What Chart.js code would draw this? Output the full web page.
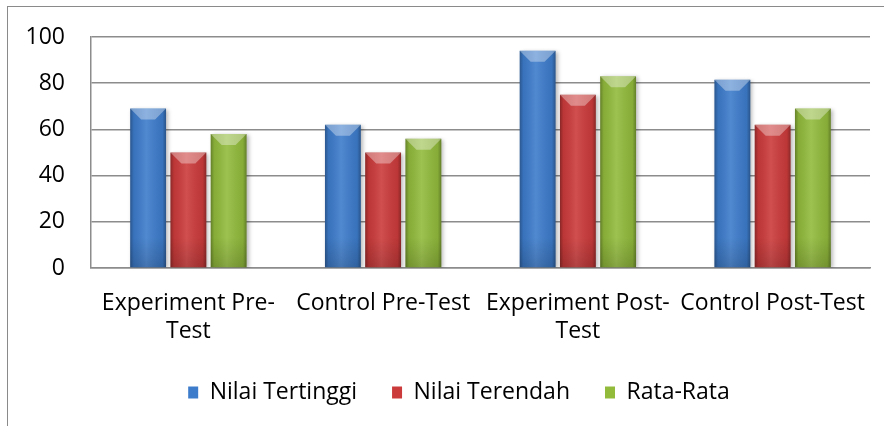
<!DOCTYPE html>
<html>
<head>
<meta charset="utf-8">
<script src="https://cdn.jsdelivr.net/npm/chart.js@4"></script>
<style>
  html, body { margin: 0; padding: 0; background: #fff; }
  #wrap { position: relative; width: 884px; height: 426px; overflow: hidden; }
  #frame { position: absolute; left: 7px; top: 6px; width: 900px; height: 440px;
           border-left: 1.5px solid #8a8a8a; border-top: 1.5px solid #8a8a8a; }
  canvas { position: absolute; left: 0; top: 0; }
</style>
</head>
<body>
<div id="wrap">
  <div id="frame"></div>
  <canvas id="chart" width="884" height="426"></canvas>
</div>
<script>
// ---- data ----
const categories = [['Experiment Pre-', 'Test'], 'Control Pre-Test', ['Experiment Post-', 'Test'], 'Control Post-Test'];
const nilaiTertinggi = [69, 62, 94, 81.5];
const nilaiTerendah = [50, 50, 75, 62];
const rataRata = [58, 56, 83, 69];
const yTicks = [0, 20, 40, 60, 80, 100];

const seriesNames = ['Nilai Tertinggi', 'Nilai Terendah', 'Rata-Rata'];
const seriesColors = ['#3d7ccb', '#cc3b3b', '#92bb3c'];

const FONT = { family: '"Open Sans", sans-serif', size: 23 };
const GRID = '#8c8c8c';

// Excel-style bevel shading drawn over each bar the library has placed
const bevelPlugin = {
    id: 'bevel',
    afterLayout(chart) {
        // legend in the original is centred on the outer frame, a bit right of the canvas centre
        chart.legend.left += 24;
        chart.legend.right += 24;
    },
    beforeDatasetsDraw(chart) {
        const ctx = chart.ctx;
        ctx.save();
        ctx.shadowColor = 'rgba(0,0,0,0.28)';
        ctx.shadowBlur = 4;
        ctx.shadowOffsetX = 2;
        ctx.shadowOffsetY = 1;
    },
    afterDatasetsDraw(chart) {
        const ctx = chart.ctx;
        ctx.restore();
        chart.data.datasets.forEach((ds, i) => {
            chart.getDatasetMeta(i).data.forEach(bar => {
                const w = bar.width;
                const l = bar.x - w / 2, r = bar.x + w / 2;
                const t = bar.y, b = bar.base;
                // side-to-side shading
                const g = ctx.createLinearGradient(l, 0, r, 0);
                g.addColorStop(0, 'rgba(0,0,0,0.30)');
                g.addColorStop(0.1, 'rgba(0,0,0,0.08)');
                g.addColorStop(0.45, 'rgba(255,255,255,0.10)');
                g.addColorStop(0.9, 'rgba(0,0,0,0.08)');
                g.addColorStop(1, 'rgba(0,0,0,0.32)');
                ctx.fillStyle = g;
                ctx.fillRect(l, t, w, b - t);
                // top bevel
                const bv = 11;
                ctx.beginPath();
                ctx.moveTo(l, t);
                ctx.lineTo(r, t);
                ctx.lineTo(r - bv, t + bv);
                ctx.lineTo(l + bv, t + bv);
                ctx.closePath();
                ctx.fillStyle = 'rgba(255,255,255,0.35)';
                ctx.fill();
                // bottom darkening
                const gb = ctx.createLinearGradient(0, b - 30, 0, b);
                gb.addColorStop(0, 'rgba(0,0,0,0)');
                gb.addColorStop(1, 'rgba(0,0,0,0.15)');
                ctx.fillStyle = gb;
                ctx.fillRect(l, b - 30, w, 30);
            });
        });
    }
};

new Chart(document.getElementById('chart'), {
    type: 'bar',
    data: {
        labels: categories,
        datasets: [nilaiTertinggi, nilaiTerendah, rataRata].map((vals, i) => ({
            label: seriesNames[i],
            data: vals,
            backgroundColor: seriesColors[i],
            borderWidth: 0,
            categoryPercentage: 0.62,
            barPercentage: 0.89
        }))
    },
    options: {
        responsive: false,
        animation: false,
        layout: { padding: { top: 37, right: 14, bottom: 12, left: 0 } },
        scales: {
            x: {
                grid: { display: false, drawTicks: false },
                border: { display: true, color: GRID, width: 1.5 },
                ticks: { color: '#000', font: FONT, padding: 22, maxRotation: 0, autoSkip: false },
                afterFit: s => { s.height = 78; s.paddingLeft = 0; s.paddingRight = 0; }
            },
            y: {
                min: 0,
                max: 100,
                afterBuildTicks: s => { s.ticks = yTicks.map(v => ({ value: v })); },
                ticks: { color: '#000', font: FONT, padding: 26 },
                grid: { color: GRID, lineWidth: 1.5, drawTicks: false },
                border: { display: true, color: GRID, width: 1.5 },
                afterFit: s => { s.width = 91; s.paddingTop = 0; s.paddingBottom = 0; }
            }
        },
        plugins: {
            legend: {
                position: 'bottom',
                labels: { color: '#000', font: FONT, boxWidth: 10, boxHeight: 12, padding: 35 }
            },
            tooltip: { enabled: false }
        }
    },
    plugins: [bevelPlugin]
});
</script>
</body>
</html>
